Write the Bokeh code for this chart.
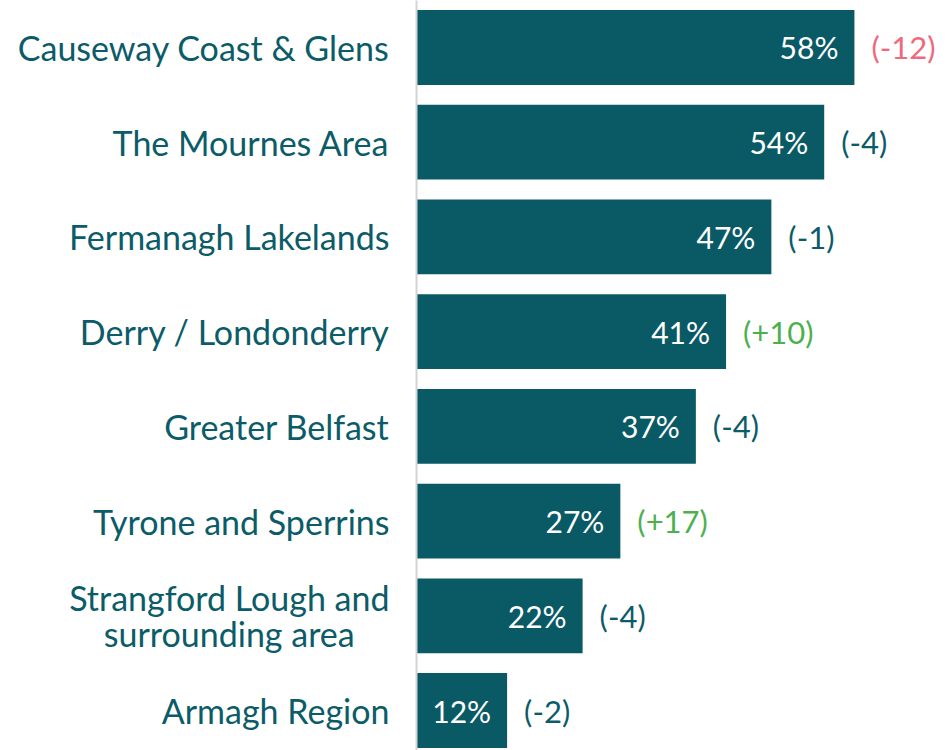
from bokeh.plotting import figure
from bokeh.models import ColumnDataSource, Range1d, FixedTicker
from bokeh.core.properties import value
from bokeh.embed import file_html
from bokeh.resources import INLINE

categories = ["Causeway Coast & Glens", "The Mournes Area", "Fermanagh Lakelands",
              "Derry / Londonderry", "Greater Belfast", "Tyrone and Sperrins",
              "Strangford Lough and\nsurrounding area", "Armagh Region"]
values = [58, 54, 47, 41, 37, 27, 22, 12]
changes = ["(-12)", "(-4)", "(-1)", "(+10)", "(-4)", "(+17)", "(-4)", "(-2)"]
change_colors = ["#EE6A7C", "#0B5C68", "#0B5C68", "#4DB04F", "#0B5C68", "#4DB04F", "#0B5C68", "#0B5C68"]

TEAL = "#0A5A66"
LABEL_COLOR = "#0B5C68"
FONT = "Lato"

idx = list(range(len(categories)))
src = ColumnDataSource(dict(
    y=idx, v=values, vl=[f"{v}%" for v in values], ch=changes, cc=change_colors))

p = figure(width=948, height=750, output_backend="svg", toolbar_location=None,
           x_range=Range1d(0, 70.46), y_range=Range1d(7.422, -0.496),
           min_border_left=416, min_border_right=0, min_border_top=0, min_border_bottom=0)

p.hbar(y="y", right="v", left=0, height=0.79, source=src, color=TEAL, line_color=None)
p.text(x="v", y="y", text="vl", source=src, x_offset=-16, text_align="right",
       text_baseline="middle", text_color="white", text_font=value(FONT),
       text_font_size="30px")
p.text(x="v", y="y", text="ch", source=src, x_offset=17, text_align="left",
       text_baseline="middle", text_color="cc", text_font=value(FONT),
       text_font_size="31px")


def centre_lines(label):
    # pad shorter lines with no-break spaces so right-aligned lines look centred
    lines = label.split("\n")
    if len(lines) == 1:
        return label
    longest = max(len(l) for l in lines)
    return "\n".join(l + "\u00a0" * round((longest - len(l)) * 0.9) for l in lines)


p.xaxis.visible = False
p.grid.visible = False
p.outline_line_color = None
yax = p.yaxis[0]
yax.ticker = FixedTicker(ticks=idx)
yax.major_label_overrides = {i: centre_lines(c) for i, c in zip(idx, categories)}
yax.major_tick_line_color = None
yax.minor_tick_line_color = None
yax.axis_line_color = "#D3D3D3"
yax.axis_line_width = 2
yax.major_label_standoff = 21
yax.major_label_text_font = FONT
yax.major_label_text_font_size = "34px"
yax.major_label_text_line_height = 0.88
yax.major_label_text_color = LABEL_COLOR
yax.major_label_text_font_style = "normal"

open("out.html", "w").write(file_html(p, INLINE))
